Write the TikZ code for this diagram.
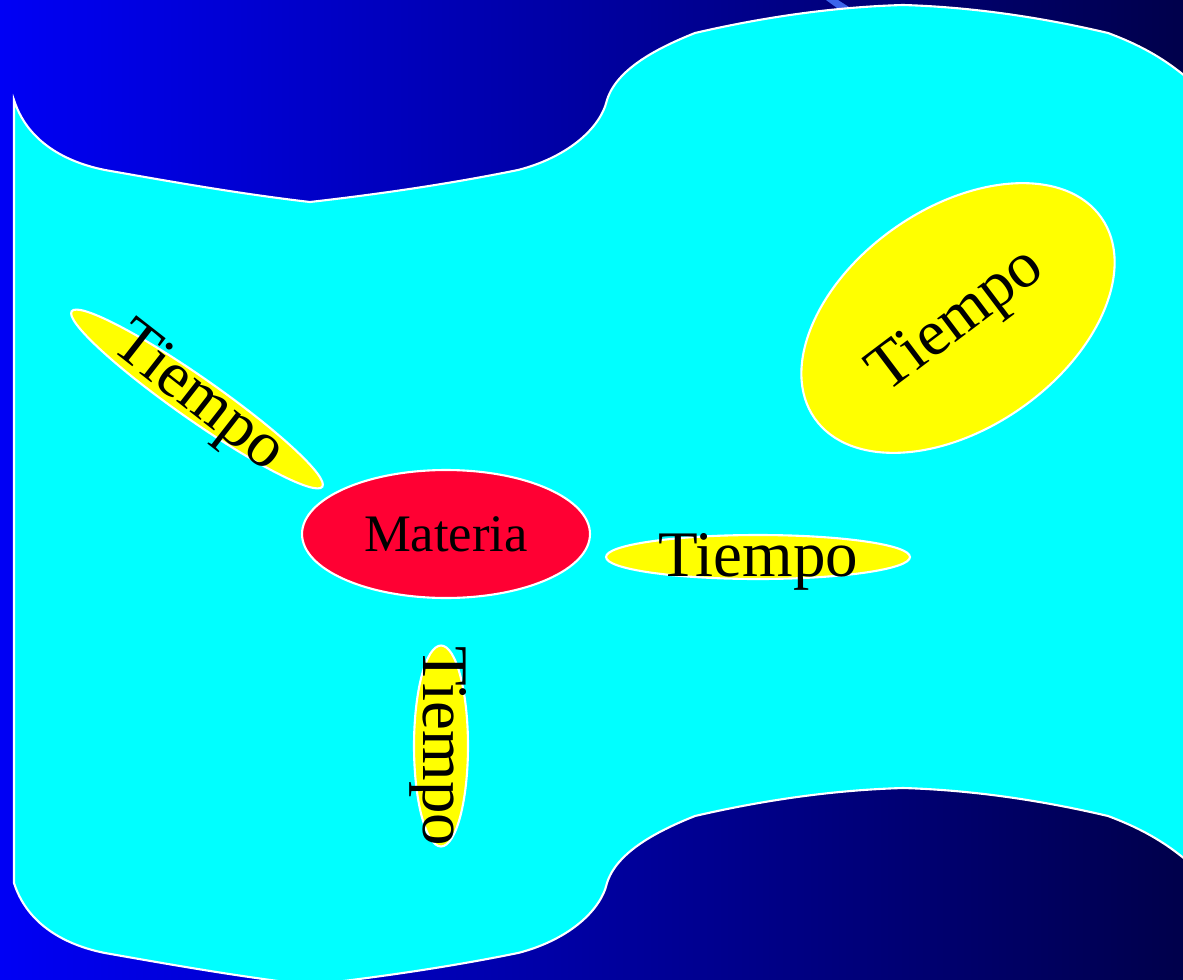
\documentclass[tikz,border=0pt]{standalone}
\usepackage{fontspec}
\setmainfont{Liberation Serif}
\usetikzlibrary{shapes.geometric}
\definecolor{bgleft}{RGB}{0,0,245}
\definecolor{bgright}{RGB}{0,0,75}
\definecolor{streak}{RGB}{60,100,235}
\definecolor{flagcyan}{RGB}{0,255,255}
\definecolor{tiempoyellow}{RGB}{255,255,0}
\definecolor{materiared}{RGB}{255,0,51}
\tikzset{
	blob/.style={ellipse, draw=white, line width=1.2pt, inner sep=0pt}
}
\tikzset{
	tiempoblob/.style={blob, fill=tiempoyellow}
}
\tikzset{
	bigtext/.style={font=\fontsize{37}{40}\selectfont, inner sep=0pt}
}

\begin{document}
\begin{tikzpicture}[x=0.02cm, y=-0.02cm]

			\useasboundingbox (0,0) rectangle (1183,980);
			\clip (0,0) rectangle (1183,980);

			% background
			\shade[left color=bgleft, right color=bgright] (0,0) rectangle (1183,980);
			\fill[streak] (826,0) -- (838,0) -- (860,14) -- (848,16) -- cycle;

			% flag
			\draw[fill=flagcyan, draw=white, line width=1.2pt]
			(14,100) .. controls (30,150) and (80,165) .. (105,170)
			.. controls (173,182) and (241,194) .. (310,202)
			.. controls (380,194) and (449,184) .. (518,170)
			.. controls (565,158) and (600,130) .. (607,100)
			.. controls (617,68) and (660,47) .. (695,33)
			.. controls (764,17) and (834,7) .. (903,5)
			.. controls (971,7) and (1040,17) .. (1108,33)
			.. controls (1140,45) and (1175,62) .. (1210,100) --
			(1210,883) .. controls (1175,845) and (1140,828) .. (1108,816)
			.. controls (1040,800) and (971,790) .. (903,788)
			.. controls (834,790) and (764,800) .. (695,816)
			.. controls (660,830) and (617,851) .. (607,883)
			.. controls (600,913) and (565,941) .. (518,953)
			.. controls (449,967) and (380,977) .. (310,985)
			.. controls (241,977) and (173,965) .. (105,953)
			.. controls (80,948) and (30,933) .. (14,883) --
			cycle;

			% ellipses
			\node[blob, fill=materiared, minimum width=5.76cm, minimum height=2.56cm] (materia) at (446,534) {};
			\node[tiempoblob, minimum width=6.08cm, minimum height=0.88cm] (tRight) at (758,557) {};
			\node[tiempoblob, minimum width=1.08cm, minimum height=4.02cm] (tDown) at (441,746) {};
			\node[tiempoblob, minimum width=6.12cm, minimum height=0.84cm, rotate=-35] (tLeft) at (197,399) {};
			\node[tiempoblob, minimum width=7.0cm, minimum height=4.4cm, rotate=35] (tBig) at (958,318) {};

			% labels
			\node[font=\fontsize{30}{34}\selectfont, inner sep=0pt] (lMateria) at (materia) {Materia};
			\node[bigtext] (lRight) at ([yshift=-0.1cm]tRight.center) {Tiempo};
			\node[bigtext, rotate=-90] (lDown) at ([xshift=-0.06cm]tDown.center) {Tiempo};
			\node[bigtext, rotate=-38] (lLeft) at (tLeft) {Tiempo};
			\node[bigtext, rotate=37] (lBig) at ([yshift=-0.08cm]tBig.center) {Tiempo};

		\end{tikzpicture}
\end{document}
